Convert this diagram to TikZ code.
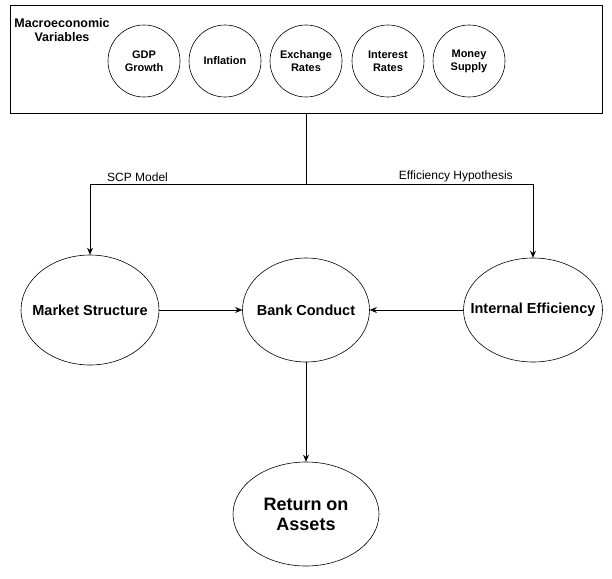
\documentclass[tikz,border=0pt]{standalone}
\usepackage{fontspec}
\setmainfont{Liberation Sans}
\usetikzlibrary{arrows.meta,shapes.geometric}

\begin{document}
\begin{tikzpicture}[x=1pt,y=-1pt,>={Stealth[length=7pt,width=6pt]},
    line width=0.8pt,
    factor/.style={circle,draw,line width=0.6pt,minimum size=72pt,inner sep=1pt,
      align=center,font=\fontsize{11}{13}\selectfont\bfseries},
    stage/.style={ellipse,draw,line width=0.6pt,inner sep=-30pt,align=center,
      font=\fontsize{14.5}{17}\selectfont\bfseries},
    tag/.style={font=\fontsize{12}{14}\selectfont,inner sep=2pt}]
  \useasboundingbox (0,0) rectangle (612,578);

  % macro box with its factors
  \node[draw,line width=0.8pt,minimum width=592pt,minimum height=108pt] (macro) at (306,59) {};
  \node[align=center,font=\fontsize{12.5}{14.5}\selectfont\bfseries] (title) at (62,30)
    {Macroeconomic\\Variables};
  \node[factor] (gdp) at (144,61) {GDP\\Growth};
  \node[factor] (infl) at (225,61) {Inflation};
  \node[factor] (fx) at (306,61) {Exchange\\Rates};
  \node[factor] (rate) at (388,61) {Interest\\Rates};
  \node[factor] (money) at (469,61) {Money\\Supply};

  % the three stages
  \node[stage,minimum width=138pt,minimum height=110pt] (mkt) at (90,310) {Market Structure};
  \node[stage,minimum width=127pt,minimum height=104pt] (bank) at (306,310) {Bank Conduct};
  \node[stage,minimum width=139pt,minimum height=104pt] (eff) at (533,310) {Internal Efficiency};
  \node[stage,minimum width=146pt,minimum height=104pt,
    font=\fontsize{18}{20}\selectfont\bfseries] (roa) at (306,514) {Return on\\Assets};

  \coordinate (split) at (306,184);
  \draw (macro.south) -- (split);
  \draw[->] (split) -| node[tag,pos=0.39,above] {SCP Model} (mkt.north);
  \draw[->] (split) -| node[tag,pos=0.33,above] {Efficiency Hypothesis} (eff.north);
  \draw[->] (mkt) -- (bank);
  \draw[->] (eff) -- (bank);
  \draw[->] (bank) -- (roa);
\end{tikzpicture}
\end{document}
